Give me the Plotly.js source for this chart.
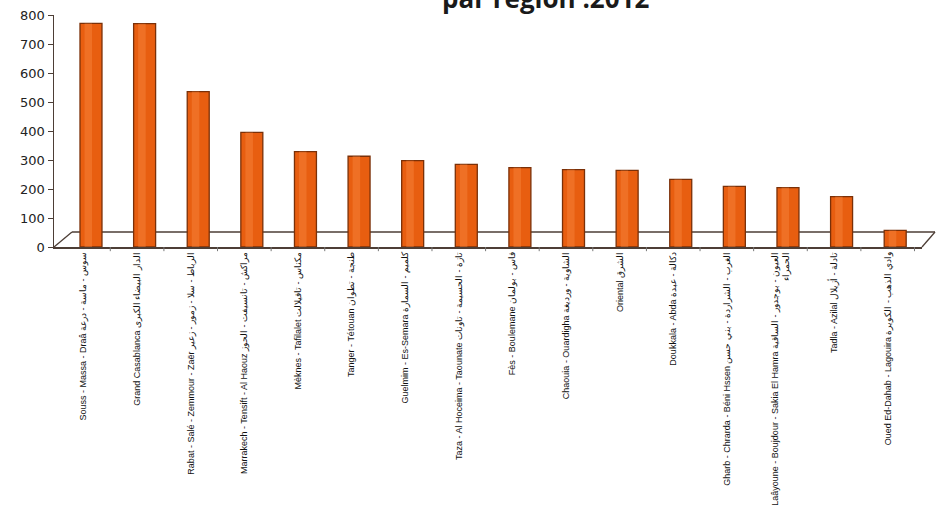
<!DOCTYPE html>
<html>
<head>
<meta charset="utf-8">
<script src="https://cdn.plot.ly/plotly-3.0.1.min.js"></script>
<style>html,body{margin:0;padding:0;background:#fff;}#chart{width:937px;height:505px;}</style>
</head>
<body>
<div id="chart"></div>
<script>
var regions = [
  "Souss - Massa - Draâ سوس - ماسة - درعة",
  "Grand Casablanca الدار البيضاء الكبرى",
  "Rabat - Salé - Zemmour - Zaër الرباط - سلا - زمور - زعير",
  "Marrakech - Tensift - Al Haouz مراكش - تانسيفت - الحوز",
  "Mèknes - Tafilalet مكناس - تافيلالت",
  "Tanger - Tétouan طنجة - تطوان",
  "Guelmim - Es-Semara كلميم - السمارة",
  "Taza - Al Hoceima - Taounate تازة - الحسيمة - تاونات",
  "Fès - Boulemane فاس - بولمان",
  "Chaouia - Ouardigha الشاوية - ورديغة",
  "Oriental الشرق",
  "Doukkala - Abda دكالة - عبدة",
  "Gharb - Chrarda - Béni Hssen الغرب - الشراردة - بني حسن",
  "Laâyoune - Boujdour - Sakia El Hamra العيون - بوجدور - الساقية<br>الحمراء",
  "Tadla - Azilal تادلة - أزيلال",
  "Oued Ed-Dahab - Lagouira وادي الذهب - الكويرة"
];
var values = [771, 770, 536, 395, 329, 313, 298, 285, 274, 267, 264, 233, 209, 205, 174, 57];
var yTicks = [0, 100, 200, 300, 400, 500, 600, 700, 800];
var titleText = "par région :2012";

var xs = regions.map(function(_, i){ return i; });

var main = {
  type: 'bar', x: xs, y: values, width: 0.41, offset: -0.065,
  marker: {color: '#E85E10', line: {color: '#7A3008', width: 1.3}},
  hoverinfo: 'skip', showlegend: false
};
var shine = {
  type: 'bar', x: xs, y: values, width: 0.14, offset: 0.02,
  marker: {color: 'rgba(250,140,70,0.4)', line: {width: 0}},
  hoverinfo: 'skip', showlegend: false
};

var axisCol = '#4d3e36';
var tickShapes = [];
for (var i = 0; i <= 15; i++) {
  tickShapes.push({type: 'line', xref: 'x', yref: 'paper', x0: i + 0.5, x1: i + 0.5, y0: 0, y1: -0.018,
    line: {color: '#777', width: 1}});
}
var layout = {
  width: 937, height: 505,
  margin: {l: 54, r: 15, t: 15, b: 258, pad: 0},
  paper_bgcolor: '#ffffff', plot_bgcolor: 'rgba(0,0,0,0)',
  barmode: 'overlay',
  xaxis: {
    type: 'linear', range: [-0.55, 15.64], tickmode: 'array',
    tickvals: xs, ticktext: regions, tickangle: -90,
    showgrid: false, zeroline: false, showline: true, linecolor: axisCol, linewidth: 1.5,
    ticks: '', tickfont: {family: 'Liberation Sans, Arial, sans-serif', size: 9, color: '#111'},
    automargin: false, fixedrange: true
  },
  yaxis: {
    range: [0, 800], tickmode: 'array', tickvals: yTicks,
    showgrid: false, zeroline: false, showline: true, linecolor: axisCol, linewidth: 1.5,
    ticks: 'outside', ticklen: 5, tickcolor: axisCol,
    tickfont: {family: 'DejaVu Sans, Verdana, sans-serif', size: 13, color: '#222'},
    automargin: false, fixedrange: true
  },
  shapes: [
    {type: 'line', xref: 'paper', yref: 'paper', x0: 0.0207, y0: 0.0647, x1: 1.015, y1: 0.0647, line: {color: axisCol, width: 1.5}, layer: 'below'},
    {type: 'line', xref: 'paper', yref: 'paper', x0: 0, y0: 0, x1: 0.0207, y1: 0.0647, line: {color: axisCol, width: 1.3}, layer: 'below'},
    {type: 'line', xref: 'paper', yref: 'paper', x0: 1, y0: 0, x1: 1.015, y1: 0.0647, line: {color: axisCol, width: 1.3}, layer: 'below'}
  ].concat(tickShapes),
  annotations: [
    {text: titleText, xref: 'paper', yref: 'paper', x: 0.566, y: 1.0, xanchor: 'center', yanchor: 'bottom', yshift: -3,
     showarrow: false, font: {family: 'Open Sans, sans-serif', size: 26, color: '#1a1a1a', weight: 'bold'}}
  ]
};

Plotly.newPlot('chart', [main, shine], layout, {staticPlot: true, displayModeBar: false});
</script>
</body>
</html>
